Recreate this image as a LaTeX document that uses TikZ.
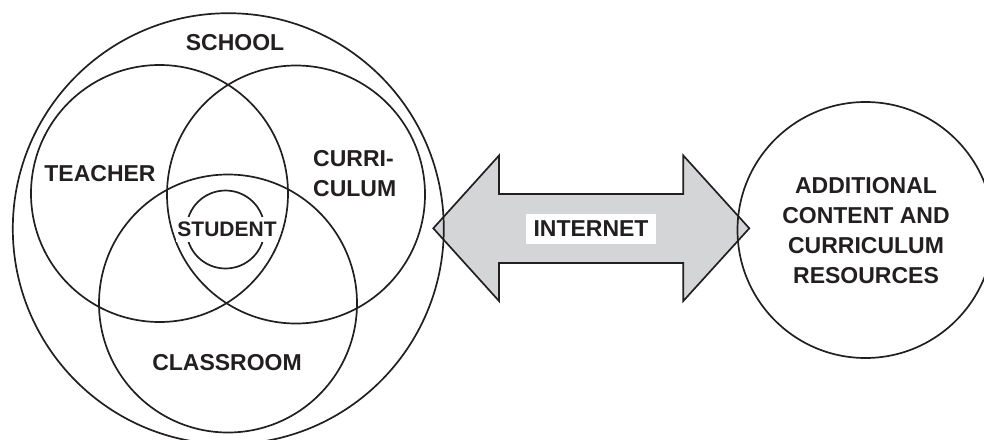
\documentclass[tikz,border=0pt]{standalone}
\usepackage{fontspec}
\setmainfont{Liberation Sans}
\definecolor{ink}{RGB}{35,31,32}
\definecolor{pipe}{RGB}{212,213,215}
\begin{document}
\begin{tikzpicture}[x=1pt,y=-1pt,
  ring/.style={circle, draw=ink, line width=1.7pt, inner sep=0pt, outer sep=0pt},
  label/.style={text=ink, inner sep=0pt, font=\bfseries\fontsize{23}{30}\selectfont},
  tag/.style={label, fill=white}]
\useasboundingbox (0,0) rectangle (984,439);
\clip (0,0) rectangle (984,439);

% double-headed arrow between the two worlds
\draw[ink, line width=1.7pt, fill=pipe, line join=miter]
  (433.3,228.3) -- (499,155.5) -- (499,194) -- (683.3,194) -- (683.3,155.5)
  -- (749.3,228.3) -- (683.3,301) -- (683.3,263) -- (499,263) -- (499,301) -- cycle;

% nested circles of the school
\node[ring, minimum size=431pt] (school) at (228.3,228.7) {};
\node[ring, minimum size=257pt] (teacher) at (159.5,193.5) {};
\node[ring, minimum size=258pt] (curriculum) at (296,194.5) {};
\node[ring, minimum size=258pt] (classroom) at (228,303.5) {};
\node[ring, minimum size=78pt] (student) at (225.5,229.5) {};

% outside resources
\node[ring, minimum size=256pt] (resources) at (865.5,230) {};

% labels
\node[label] (schoolLbl) at (235,43) {SCHOOL};
\node[label] (teacherLbl) at (100,173.5) {TEACHER};
\node[label, align=left, anchor=north west] (curricLbl) at (313,150) {CURRI-\\CULUM};
\node[label] (classLbl) at (227,363) {CLASSROOM};
\node[tag, font=\bfseries\fontsize{21}{25}\selectfont, inner xsep=1pt,
      minimum height=25pt] (studentLbl) at (227,229.5) {STUDENT};
\node[tag, minimum width=130pt, minimum height=30pt] (netLbl) at (591,229) {INTERNET};
\node[label, align=center] (resLbl) at (866,230.6)
  {ADDITIONAL\\CONTENT AND\\CURRICULUM\\RESOURCES};
\end{tikzpicture}
\end{document}
